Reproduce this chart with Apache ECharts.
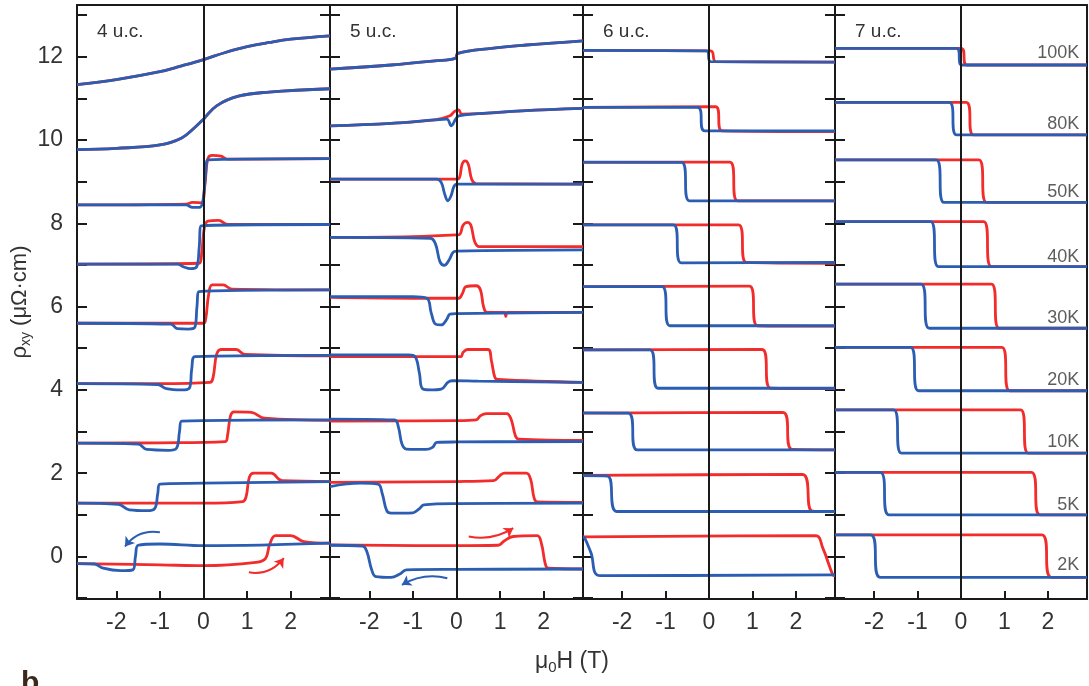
<!DOCTYPE html>
<html>
<head>
<meta charset="utf-8">
<title>rho_xy hysteresis loops</title>
<script src="https://cdn.jsdelivr.net/npm/echarts@6/dist/echarts.min.js"></script>
<style>
html, body { margin: 0; padding: 0; background: #fff; }
#chart { width: 1089px; height: 686px; }
</style>
</head>
<body>
<div id="chart"></div>
<script>
'use strict';

var temps = ['100K', '80K', '50K', '40K', '30K', '20K', '10K', '5K', '2K'];
var panelNames = ['4 u.c.', '5 u.c.', '6 u.c.', '7 u.c.'];
var xTicks = [-2, -1, 0, 1, 2];
var yLabels = [0, 2, 4, 6, 8, 10, 12];
var yTicks = [-1, 0, 1, 2, 3, 4, 5, 6, 7, 8, 9, 10, 11, 12, 13];
var tempLabelX = 2.72;
var tempLabelY = [12.09, 10.38, 8.76, 7.2, 5.72, 4.24, 2.76, 1.24, -0.2];

// red = field sweep up, blue = field sweep down; one curve per temperature (100K .. 2K)
var uc4Red = [
    [[-2.9, 11.33], [-2, 11.45], [-1, 11.64], [-0.5, 11.78], [0, 11.93], [0.5, 12.1], [1, 12.24], [1.5, 12.34], [2, 12.42], [2.9, 12.5]],
    [[-2.9, 9.77], [-2, 9.8], [-1, 9.88], [-0.5, 10.05], [-0.2, 10.3], [0, 10.5], [0.3, 10.82], [0.8, 11.05], [1.5, 11.15], [2.9, 11.23]],
    [[-2.9, 8.44], [-0.4, 8.46], [-0.25, 8.5], [-0.05, 8.49], [0.03, 8.9], [0.1, 9.55], [0.2, 9.63], [0.4, 9.61], [0.55, 9.54], [2.9, 9.55]],
    [[-2.9, 7.02], [-0.1, 7.04], [-0.04, 7.3], [0.02, 7.9], [0.1, 8.05], [0.35, 8.07], [0.55, 7.97], [2.9, 7.97]],
    [[-2.9, 5.6], [0, 5.6], [0.05, 5.7], [0.12, 6.3], [0.2, 6.52], [0.45, 6.52], [0.65, 6.42], [2.9, 6.4]],
    [[-2.9, 4.15], [-1, 4.15], [0.15, 4.18], [0.22, 4.3], [0.3, 4.85], [0.4, 4.97], [0.75, 4.97], [0.95, 4.85], [2.9, 4.82]],
    [[-2.9, 2.72], [-1, 2.73], [0.5, 2.76], [0.55, 2.9], [0.62, 3.38], [0.7, 3.47], [1.1, 3.46], [1.4, 3.32], [2.9, 3.27]],
    [[-2.9, 1.28], [0, 1.28], [0.9, 1.32], [0.98, 1.45], [1.05, 1.9], [1.15, 2.0], [1.55, 2.0], [1.8, 1.82], [2.9, 1.8]],
    [[-2.9, -0.17], [-1, -0.2], [0, -0.22], [1.2, -0.14], [1.42, -0.05], [1.52, 0.3], [1.65, 0.5], [2.0, 0.5], [2.3, 0.36], [2.9, 0.32]]
];
var uc4Blue = [
    [[2.9, 12.5], [2, 12.42], [1.5, 12.34], [1, 12.24], [0.5, 12.1], [0, 11.93], [-0.5, 11.78], [-1, 11.64], [-2, 11.45], [-2.9, 11.33]],
    [[2.9, 11.23], [1.5, 11.15], [0.8, 11.05], [0.3, 10.82], [0, 10.5], [-0.2, 10.3], [-0.5, 10.05], [-1, 9.88], [-2, 9.8], [-2.9, 9.77]],
    [[2.9, 9.55], [0.1, 9.52], [0.05, 9.2], [-0.02, 8.5], [-0.1, 8.38], [-0.25, 8.38], [-0.4, 8.44], [-2.9, 8.44]],
    [[2.9, 7.97], [-0.05, 7.94], [-0.1, 7.4], [-0.16, 6.95], [-0.3, 6.91], [-0.45, 6.95], [-0.6, 7.02], [-2.9, 7.02]],
    [[2.9, 6.4], [-0.1, 6.36], [-0.15, 6.0], [-0.2, 5.5], [-0.35, 5.46], [-0.6, 5.47], [-0.75, 5.58], [-2.9, 5.6]],
    [[2.9, 4.83], [-0.2, 4.8], [-0.27, 4.5], [-0.32, 4.05], [-0.5, 4.0], [-0.85, 4.03], [-1.05, 4.13], [-2.9, 4.15]],
    [[2.9, 3.28], [-0.5, 3.25], [-0.55, 3.0], [-0.62, 2.6], [-0.8, 2.55], [-1.3, 2.57], [-1.5, 2.7], [-2.9, 2.72]],
    [[2.9, 1.8], [0, 1.76], [-1.0, 1.74], [-1.05, 1.5], [-1.12, 1.15], [-1.3, 1.1], [-1.7, 1.12], [-1.95, 1.25], [-2.9, 1.28]],
    [[2.9, 0.32], [0, 0.26], [-1.0, 0.3], [-1.5, 0.27], [-1.56, 0.0], [-1.62, -0.32], [-1.9, -0.34], [-2.3, -0.28], [-2.5, -0.18], [-2.9, -0.17]]
];

var uc5Red = [
    [[-2.9, 11.7], [-1.5, 11.8], [-0.5, 11.9], [-0.03, 11.96], [0.03, 12.08], [0.8, 12.2], [1.6, 12.28], [2.9, 12.38]],
    [[-2.9, 10.34], [-1.5, 10.4], [-0.5, 10.48], [-0.15, 10.58], [-0.05, 10.68], [0.05, 10.72], [0.12, 10.62], [0.5, 10.63], [1.5, 10.7], [2.9, 10.76]],
    [[-2.9, 9.06], [0, 9.06], [0.07, 9.1], [0.13, 9.42], [0.2, 9.5], [0.27, 9.42], [0.35, 9.05], [0.45, 8.95], [2.9, 8.94]],
    [[-2.9, 7.66], [-1, 7.68], [0, 7.72], [0.08, 7.74], [0.15, 7.95], [0.25, 8.02], [0.33, 7.95], [0.42, 7.55], [0.52, 7.44], [2.9, 7.44]],
    [[-2.9, 6.22], [-1, 6.2], [0.05, 6.2], [0.13, 6.3], [0.22, 6.48], [0.45, 6.5], [0.55, 6.4], [0.62, 6.0], [0.7, 5.86], [1.1, 5.86], [1.13, 5.76], [1.16, 5.86], [2.9, 5.86]],
    [[-2.9, 4.8], [-1, 4.8], [0.1, 4.8], [0.15, 4.9], [0.25, 4.97], [0.72, 4.97], [0.8, 4.7], [0.88, 4.3], [0.95, 4.25], [2.9, 4.18]],
    [[-2.9, 3.25], [0, 3.26], [0.45, 3.28], [0.55, 3.38], [0.68, 3.43], [1.15, 3.43], [1.25, 3.3], [1.35, 2.9], [1.42, 2.82], [2.9, 2.79]],
    [[-2.9, 1.78], [0, 1.8], [0.85, 1.82], [1.0, 1.95], [1.1, 2.0], [1.6, 2.0], [1.7, 1.85], [1.78, 1.4], [1.85, 1.31], [2.9, 1.3]],
    [[-2.9, 0.28], [0, 0.26], [0.95, 0.27], [1.1, 0.38], [1.3, 0.48], [1.85, 0.5], [1.95, 0.3], [2.03, -0.15], [2.1, -0.28], [2.9, -0.3]]
];
var uc5Blue = [
    [[2.9, 12.38], [1.6, 12.28], [0.8, 12.2], [0.03, 12.08], [-0.03, 11.96], [-0.5, 11.9], [-1.5, 11.8], [-2.9, 11.7]],
    [[2.9, 10.76], [1.5, 10.7], [0.5, 10.63], [0.05, 10.58], [-0.02, 10.5], [-0.12, 10.34], [-0.22, 10.5], [-0.5, 10.48], [-1.5, 10.4], [-2.9, 10.34]],
    [[2.9, 8.94], [0.02, 8.94], [-0.05, 8.9], [-0.13, 8.65], [-0.2, 8.54], [-0.27, 8.7], [-0.35, 8.98], [-0.45, 9.06], [-2.9, 9.06]],
    [[2.9, 7.36], [0, 7.33], [-0.08, 7.3], [-0.17, 7.12], [-0.28, 6.99], [-0.38, 7.08], [-0.48, 7.5], [-0.6, 7.64], [-2.9, 7.66]],
    [[2.9, 5.86], [0, 5.83], [-0.15, 5.82], [-0.22, 5.7], [-0.35, 5.56], [-0.48, 5.58], [-0.58, 5.85], [-0.68, 6.2], [-1, 6.24], [-2.9, 6.24]],
    [[2.9, 4.18], [0.5, 4.21], [-0.1, 4.22], [-0.2, 4.18], [-0.35, 4.02], [-0.6, 4.0], [-0.78, 4.03], [-0.85, 4.4], [-0.95, 4.8], [-1.1, 4.84], [-2.9, 4.84]],
    [[2.9, 2.76], [0, 2.75], [-0.45, 2.74], [-0.55, 2.62], [-0.7, 2.57], [-1.15, 2.58], [-1.25, 2.7], [-1.33, 3.1], [-1.42, 3.28], [-2.9, 3.3]],
    [[2.9, 1.28], [0, 1.27], [-0.75, 1.24], [-0.85, 1.15], [-1.0, 1.05], [-1.5, 1.04], [-1.6, 1.1], [-1.7, 1.5], [-1.8, 1.74], [-2.2, 1.76], [-2.9, 1.68]],
    [[2.9, -0.3], [0, -0.31], [-1.15, -0.32], [-1.3, -0.42], [-1.5, -0.5], [-1.85, -0.48], [-1.95, -0.3], [-2.05, 0.1], [-2.15, 0.25], [-2.9, 0.27]]
];

var uc6Red = [
    [[-2.9, 12.15], [0.04, 12.14], [0.16, 11.88], [2.9, 11.87]],
    [[-2.9, 10.78], [0.15, 10.8], [0.3, 10.22], [2.9, 10.2]],
    [[-2.9, 9.46], [0.48, 9.47], [0.66, 8.54], [2.9, 8.54]],
    [[-2.9, 7.96], [0.68, 7.96], [0.86, 7.06], [2.9, 7.04]],
    [[-2.9, 6.48], [0.93, 6.49], [1.12, 5.54], [2.9, 5.53]],
    [[-2.9, 4.96], [1.22, 4.97], [1.42, 4.04], [2.9, 4.03]],
    [[-2.9, 3.44], [1.7, 3.46], [1.92, 2.57], [2.9, 2.56]],
    [[-2.9, 1.95], [2.15, 1.97], [2.38, 1.09], [2.9, 1.08]],
    [[-2.9, 0.47], [2.45, 0.5], [2.62, 0.2], [2.85, -0.44], [2.9, -0.46]]
];
var uc6Blue = [
    [[2.9, 11.87], [0.04, 11.88], [-0.06, 12.14], [-2.9, 12.15]],
    [[2.9, 10.22], [-0.1, 10.22], [-0.26, 10.78], [-2.9, 10.78]],
    [[2.9, 8.54], [-0.45, 8.54], [-0.63, 9.46], [-2.9, 9.47]],
    [[2.9, 7.06], [-0.64, 7.05], [-0.82, 7.96], [-2.9, 7.96]],
    [[2.9, 5.54], [-0.9, 5.54], [-1.08, 6.48], [-2.9, 6.48]],
    [[2.9, 4.04], [-1.17, 4.04], [-1.36, 4.96], [-2.9, 4.96]],
    [[2.9, 2.56], [-1.65, 2.56], [-1.86, 3.44], [-2.9, 3.45]],
    [[2.9, 1.08], [-2.12, 1.08], [-2.34, 1.93], [-2.9, 1.94]],
    [[2.9, -0.44], [-2.5, -0.46], [-2.72, 0.1], [-2.86, 0.44], [-2.9, 0.47]]
];

var uc7Red = [
    [[-2.9, 12.2], [0.0, 12.2], [0.14, 11.8], [2.9, 11.8]],
    [[-2.9, 10.9], [0.12, 10.9], [0.29, 10.12], [2.9, 10.12]],
    [[-2.9, 9.52], [0.41, 9.52], [0.59, 8.5], [2.9, 8.5]],
    [[-2.9, 8.04], [0.52, 8.04], [0.7, 6.96], [2.9, 6.96]],
    [[-2.9, 6.54], [0.7, 6.54], [0.88, 5.48], [2.9, 5.48]],
    [[-2.9, 5.02], [0.94, 5.02], [1.12, 3.98], [2.9, 3.98]],
    [[-2.9, 3.52], [1.37, 3.52], [1.55, 2.48], [2.9, 2.48]],
    [[-2.9, 2.02], [1.62, 2.02], [1.82, 1.0], [2.9, 1.0]],
    [[-2.9, 0.52], [1.86, 0.52], [2.08, -0.5], [2.9, -0.5]]
];
var uc7Blue = [
    [[2.9, 11.8], [0.02, 11.8], [-0.1, 12.2], [-2.9, 12.2]],
    [[2.9, 10.12], [-0.1, 10.12], [-0.27, 10.9], [-2.9, 10.9]],
    [[2.9, 8.5], [-0.39, 8.5], [-0.57, 9.52], [-2.9, 9.52]],
    [[2.9, 6.96], [-0.52, 6.96], [-0.7, 8.04], [-2.9, 8.04]],
    [[2.9, 5.48], [-0.73, 5.48], [-0.92, 6.54], [-2.9, 6.54]],
    [[2.9, 3.98], [-0.98, 3.98], [-1.16, 5.02], [-2.9, 5.02]],
    [[2.9, 2.48], [-1.37, 2.48], [-1.55, 3.52], [-2.9, 3.52]],
    [[2.9, 1.0], [-1.66, 1.0], [-1.86, 2.02], [-2.9, 2.02]],
    [[2.9, -0.5], [-1.86, -0.5], [-2.08, 0.52], [-2.9, 0.52]]
];

// sweep-direction arrows (start, end) in the 4 u.c. and 5 u.c. panels
var uc4ArrowRed = [[1.04, -0.38], [1.84, -0.04]];
var uc4ArrowBlue = [[-1.0, 0.58], [-1.8, 0.24]];
var uc5ArrowRed = [[0.28, 0.48], [1.3, 0.68]];
var uc5ArrowBlue = [[-0.21, -0.52], [-1.25, -0.68]];

var RED = '#f22b2b';
var BLUE = '#2b5db3';
var INK = '#1a1a1a';
var TXT = '#333';
var FONT = 'Liberation Sans, Arial, sans-serif';

var gridLeft = [77, 330, 583, 835];
var gridWidth = [253, 253, 252, 252];
var reds = [uc4Red, uc5Red, uc6Red, uc7Red];
var blues = [uc4Blue, uc5Blue, uc6Blue, uc7Blue];

var grids = [], xAxes = [], yAxes = [], series = [], titles = [];

for (var p = 0; p < 4; p++) {
    grids.push({ left: gridLeft[p], width: gridWidth[p], top: 5, height: 594 });

    xAxes.push({
        type: 'value', gridIndex: p, min: -2.9, max: 2.9, position: 'bottom',
        splitLine: { show: false },
        axisLine: { onZero: false, lineStyle: { color: INK, width: 2 } },
        axisTick: { inside: true, length: 8, customValues: xTicks, lineStyle: { color: INK, width: 2 } },
        axisLabel: { customValues: xTicks, margin: 12, fontSize: 23, color: TXT, fontFamily: FONT }
    });
    xAxes.push({
        type: 'value', gridIndex: p, min: -2.9, max: 2.9, position: 'top',
        splitLine: { show: false },
        axisLine: { onZero: false, lineStyle: { color: INK, width: 2 } },
        axisTick: { show: false }, axisLabel: { show: false }
    });

    yAxes.push({
        type: 'value', gridIndex: p, min: -1.02, max: 13.24, position: 'left',
        splitLine: { show: false },
        axisLine: { onZero: false, lineStyle: { color: INK, width: 2 } },
        axisTick: { inside: true, length: 10, customValues: yTicks, lineStyle: { color: INK, width: 2 } },
        axisLabel: { show: p === 0, customValues: yLabels, margin: 14, fontSize: 23, color: TXT, fontFamily: FONT },
        name: p === 0 ? 'ρ{s|xy} (μΩ·cm)' : '',
        nameLocation: 'middle', nameGap: 46,
        nameTextStyle: {
            fontSize: 22, color: TXT, fontFamily: FONT,
            rich: { s: { fontSize: 14, lineHeight: 14, padding: [12, 0, 0, 0], color: TXT, fontFamily: FONT } }
        }
    });
    yAxes.push({
        type: 'value', gridIndex: p, min: -1.02, max: 13.24, position: 'right',
        splitLine: { show: false },
        axisLine: { onZero: false, lineStyle: { color: INK, width: 2 } },
        axisTick: { show: p < 3, inside: true, length: 10, customValues: yTicks, lineStyle: { color: INK, width: 2 } },
        axisLabel: { show: false }
    });

    titles.push({
        text: panelNames[p], left: gridLeft[p] + 15, top: 17,
        textStyle: { fontSize: 19, fontWeight: 'normal', color: TXT, fontFamily: FONT }
    });

    for (var t = 0; t < temps.length; t++) {
        series.push({
            type: 'line', name: temps[t] + ' up', xAxisIndex: 2 * p, yAxisIndex: 2 * p,
            data: reds[p][t], symbol: 'none', smooth: 0.4, z: 3, silent: true,
            lineStyle: { color: RED, width: 2.8 },
            markLine: t === 0 ? {
                silent: true, symbol: 'none', label: { show: false },
                lineStyle: { color: INK, width: 2, type: 'solid' },
                data: [{ xAxis: 0 }]
            } : undefined
        });
    }
    for (var t2 = 0; t2 < temps.length; t2++) {
        series.push({
            type: 'line', name: temps[t2] + ' down', xAxisIndex: 2 * p, yAxisIndex: 2 * p,
            data: blues[p][t2], symbol: 'none', smooth: 0.4, z: 4, silent: true,
            lineStyle: { color: BLUE, width: 2.8 }
        });
    }
}

function arrow(coords, color, panel, curve) {
    return {
        type: 'lines', coordinateSystem: 'cartesian2d', xAxisIndex: 2 * panel, yAxisIndex: 2 * panel,
        symbol: ['none', 'arrow'], symbolSize: 9, silent: true, z: 5,
        lineStyle: { color: color, width: 2, curveness: curve, opacity: 1 },
        data: [{ coords: coords }]
    };
}
series.push(arrow(uc4ArrowRed, RED, 0, -0.3));
series.push(arrow(uc4ArrowBlue, BLUE, 0, -0.3));
series.push(arrow(uc5ArrowRed, RED, 1, -0.2));
series.push(arrow(uc5ArrowBlue, BLUE, 1, -0.2));

// temperature tags at the right of the last panel
series.push({
    type: 'scatter', xAxisIndex: 6, yAxisIndex: 6, symbolSize: 0, silent: true, z: 6,
    data: temps.map(function(name, i) { return { name: name, value: [tempLabelX, tempLabelY[i]] }; }),
    label: { show: true, position: 'left', distance: 0, formatter: '{b}', fontSize: 18, color: TXT, fontFamily: FONT }
});

titles.push({
    text: 'μ{s|0}H (T)', left: 530, top: 645,
    textStyle: {
        fontSize: 23, fontWeight: 'normal', color: TXT, fontFamily: FONT,
        rich: { s: { fontSize: 15, lineHeight: 15, padding: [12, 0, 0, 0], color: TXT, fontFamily: FONT } }
    }
});
titles.push({
    text: 'b', left: 16, top: 664,
    textStyle: { fontSize: 30, fontWeight: 'bold', color: '#3b2a1c', fontFamily: FONT }
});

var myChart = echarts.init(document.getElementById('chart'));
myChart.setOption({
    animation: false,
    backgroundColor: '#fff',
    title: titles,
    grid: grids,
    xAxis: xAxes,
    yAxis: yAxes,
    series: series
});
</script>
</body>
</html>
